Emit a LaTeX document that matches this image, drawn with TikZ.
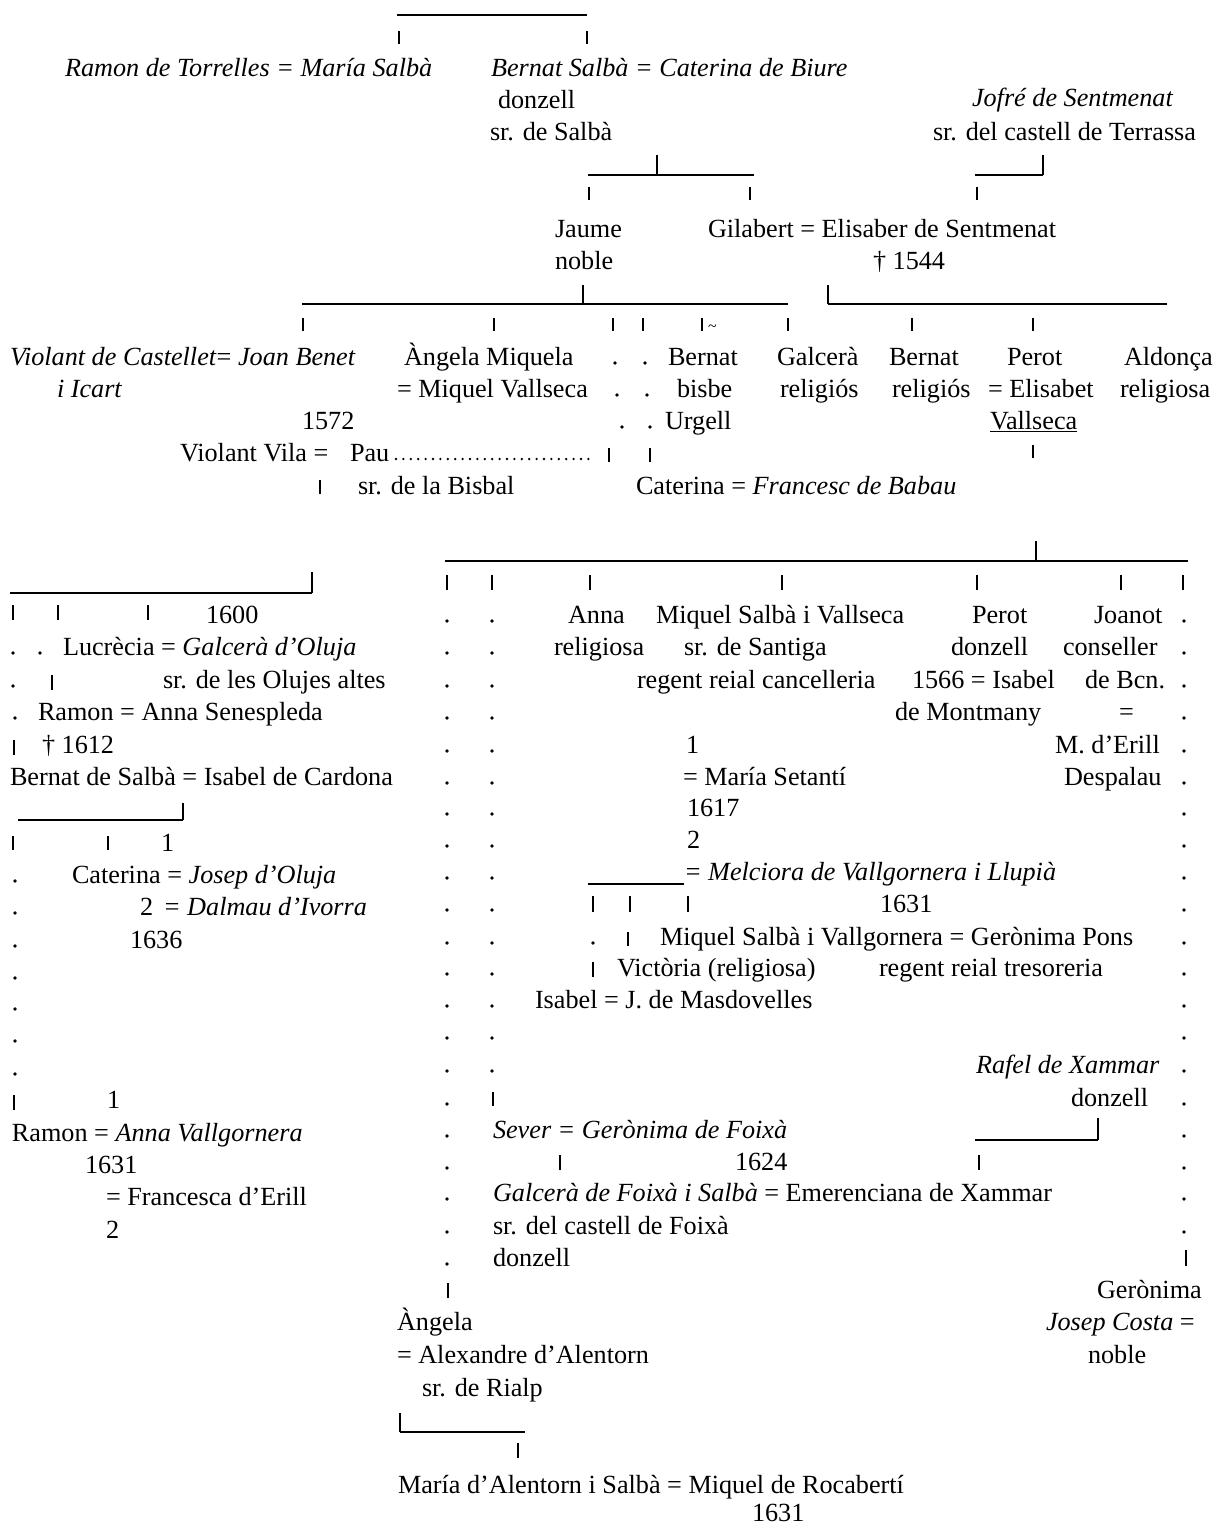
\documentclass[tikz,border=0pt]{standalone}
\usepackage{fontspec}
\setmainfont{Liberation Serif}
\newcounter{gn}
\tikzset{
  txt/.style={anchor=base west,inner sep=0pt,outer sep=0pt,font=\fontsize{26.2pt}{30pt}\selectfont},
  bar/.style={line width=1.9pt},
  hbar/.style={line width=1.7pt},
  dotline/.style={line width=2.6pt,line cap=round,dash pattern=on 0pt off 7.4pt}
}
\newcommand\gtx[3]{\stepcounter{gn}\node[txt] (t\arabic{gn}) at (#1,#2) {#3};}
\newcommand\gtk[3]{\stepcounter{gn}\coordinate (a\arabic{gn}) at (#1,#2);\coordinate (b\arabic{gn}) at (#1,#3);\draw[bar] (a\arabic{gn}) -- (b\arabic{gn});}
\newcommand\ghl[3]{\stepcounter{gn}\coordinate (a\arabic{gn}) at (#1,#3);\coordinate (b\arabic{gn}) at (#2,#3);\draw[hbar] (a\arabic{gn}) -- (b\arabic{gn});}
\newcommand\gdt[2]{\stepcounter{gn}\fill (#1,#2-2) circle (1.8);}
\begin{document}
\begin{tikzpicture}[x=1pt,y=-1pt]
\fill[white] (0,0) rectangle (1216,1524);
\useasboundingbox (0,0) rectangle (1216,1524);
% ---- top
\ghl{397}{587}{15}
\gtk{399}{31}{44}\gtk{587}{31}{44}
\gtx{65}{76}{\textit{Ramon de Torrelles = María Salbà}}
\gtx{491}{76}{\textit{Bernat Salbà = Caterina de Biure}}
\gtx{498}{108}{donzell}
\gtx{490}{140}{sr. de Salbà}
\gtx{972}{106}{\textit{Jofré de Sentmenat}}
\gtx{933}{140}{sr. del castell de Terrassa}
\gtk{657}{155}{175}\ghl{588}{754}{175}
\gtk{589}{187}{200}\gtk{750}{187}{200}
\gtk{1043}{155}{175}\ghl{975}{1043}{175}
\gtk{977}{187}{200}
\gtx{555}{237}{Jaume}
\gtx{555}{269}{noble}
\gtx{708}{237}{Gilabert = Elisaber de Sentmenat}
\gtx{873}{269}{† 1544}
% ---- second generation
\gtk{583}{285}{304}\ghl{302}{788}{304}
\gtk{828}{285}{304}\ghl{828}{1167}{304}
\gtk{303}{318}{331}\gtk{494}{318}{331}\gtk{613}{318}{331}\gtk{643}{318}{331}
\gtk{702}{318}{331}\gtk{788}{318}{331}\gtk{912}{318}{331}\gtk{1033}{318}{331}
\gtx{708}{331}{\fontsize{16pt}{18pt}\selectfont\textasciitilde}
\gtx{10}{365}{\textit{Violant de Castellet}= \textit{Joan Benet}}
\gtx{404}{365}{Àngela Miquela}
\gdt{615}{365}\gdt{645}{365}
\gtx{668}{365}{Bernat}
\gtx{777}{365}{Galcerà}
\gtx{889}{365}{Bernat}
\gtx{1007}{365}{Perot}
\gtx{1124}{365}{Aldonça}
\gtx{57}{397}{\textit{i Icart}}
\gtx{397}{397}{= Miquel Vallseca}
\gdt{617}{397}\gdt{647}{397}
\gtx{677}{397}{bisbe}
\gtx{780}{397}{religiós}
\gtx{892}{397}{religiós}
\gtx{988}{397}{= Elisabet}
\gtx{1120}{397}{religiosa}
\gtx{302}{429}{1572}
\gdt{622}{429}\gdt{650}{429}
\gtx{665}{429}{Urgell}
\gtx{990}{429}{\underline{Vallseca}}
\gtk{1033}{445}{458}
\gtx{180}{461}{Violant Vila =}
\gtx{350}{461}{Pau}
\stepcounter{gn}\coordinate (pa) at (396,459);\coordinate (pb) at (595,459);
\draw[dotline] (pa) -- (pb);
\gtk{609}{448}{462}\gtk{650}{448}{462}
\gtk{320}{480}{494}
\gtx{358}{494}{sr. de la Bisbal}
\gtx{636}{494}{Caterina = \textit{Francesc de Babau}}
% ---- right lower block header
\gtk{1036}{541}{561}\ghl{445}{1188}{561}
\gtk{447}{575}{590}\gtk{492}{575}{590}\gtk{590}{575}{590}\gtk{782}{575}{590}
\gtk{977}{575}{590}\gtk{1121}{575}{590}\gtk{1183}{575}{590}
% ---- left block
\gtk{312}{572}{593}\ghl{10}{312}{593}
\gtk{13}{605}{620}\gtk{58}{605}{620}\gtk{148}{605}{620}
\gtx{206}{623}{1600}
\gdt{13}{655}\gdt{40}{655}
\gtx{63}{655}{Lucrècia = \textit{Galcerà d'Oluja}}
\gdt{13}{688}\gtk{52}{675}{690}
\gtx{163}{688}{sr. de les Olujes altes}
\gdt{15}{720}
\gtx{38}{720}{Ramon = Anna Senespleda}
\gtk{14}{740}{755}
\gtx{42}{753}{† 1612}
\gtx{10}{785}{Bernat de Salbà = Isabel de Cardona}
\gtk{183}{803}{820}\ghl{18}{183}{820}
\gtk{13}{836}{850}\gtk{108}{836}{850}
\gtx{161}{851}{1}
\gdt{15}{883}
\gtx{72}{883}{Caterina = \textit{Josep d'Oluja}}
\gdt{15}{915}
\gtx{140}{915}{2}
\gtx{163}{915}{\textit{= Dalmau d'Ivorra}}
\gdt{15}{948}
\gtx{130}{948}{1636}
\gdt{15}{980}\gdt{15}{1011}\gdt{15}{1043}\gdt{15}{1076}
\gtk{14}{1095}{1110}
\gtx{107}{1108}{1}
\gtx{12}{1141}{Ramon = \textit{Anna Vallgornera}}
\gtx{85}{1173}{1631}
\gtx{106}{1205}{= Francesca d'Erill}
\gtx{106}{1238}{2}
% ---- middle dotted columns
\foreach \yy in {623,655,688,720,753,785,816,848,880,912,945,976,1008,1040,1073}{\gdt{447}{\yy}\gdt{492}{\yy}}
\foreach \yy in {1106,1138,1170,1201,1234,1266}{\gdt{447}{\yy}}
\gtk{493}{1092}{1106}
\gtk{448}{1283}{1298}
% ---- right dotted column
\foreach \yy in {623,655,688,720,753,785,816,848,880,912,945,976,1008,1040,1073,1106,1138,1170,1201,1234}{\gdt{1184}{\yy}}
\gtk{1186}{1250}{1266}
% ---- middle texts
\gtx{568}{623}{Anna}
\gtx{656}{623}{Miquel Salbà i Vallseca}
\gtx{972}{623}{Perot}
\gtx{1094}{623}{Joanot}
\gtx{554}{655}{religiosa}
\gtx{684}{655}{sr. de Santiga}
\gtx{951}{655}{donzell}
\gtx{1063}{655}{conseller}
\gtx{637}{688}{regent reial cancelleria}
\gtx{912}{688}{1566 = Isabel}
\gtx{1085}{688}{de Bcn.}
\gtx{895}{720}{de Montmany}
\gtx{1119}{720}{=}
\gtx{686}{753}{1}
\gtx{1055}{753}{M. d'Erill}
\gtx{683}{785}{= María Setantí}
\gtx{1064}{785}{Despalau}
\gtx{687}{816}{1617}
\gtx{687}{848}{2}
\ghl{588}{684}{884}
\gtx{684}{880}{\textit{= Melciora de Vallgornera i Llupià}}
\gtk{593}{896}{912}\gtk{630}{896}{912}\gtk{688}{896}{912}
\gtx{880}{912}{1631}
\gdt{593}{945}\gtk{628}{932}{946}
\gtx{660}{945}{Miquel Salbà i Vallgornera = Gerònima Pons}
\gtk{593}{962}{977}
\gtx{617}{976}{Victòria (religiosa)}
\gtx{879}{976}{regent reial tresoreria}
\gtx{535}{1008}{Isabel = J. de Masdovelles}
\gtx{976}{1073}{\textit{Rafel de Xammar}}
\gtx{1071}{1106}{donzell}
\gtx{493}{1138}{\textit{Sever = Gerònima de Foixà}}
\gtk{1098}{1118}{1140}\ghl{975}{1098}{1140}
\gtk{560}{1155}{1170}
\gtx{735}{1170}{1624}
\gtk{979}{1155}{1170}
\gtx{493}{1201}{\textit{Galcerà de Foixà i Salbà} = Emerenciana de Xammar}
\gtx{493}{1234}{sr. del castell de Foixà}
\gtx{493}{1266}{donzell}
\gtx{1097}{1298}{Gerònima}
\gtx{397}{1330}{Àngela}
\gtx{1046}{1330}{\textit{Josep Costa} =}
\gtx{397}{1363}{= Alexandre d'Alentorn}
\gtx{1088}{1363}{noble}
\gtx{422}{1396}{sr. de Rialp}
\gtk{400}{1413}{1432}\ghl{400}{525}{1432}
\gtk{518}{1443}{1458}
\gtx{398}{1493}{María d'Alentorn i Salbà = Miquel de Rocabertí}
\gtx{752}{1521}{1631}
\end{tikzpicture}
\end{document}
